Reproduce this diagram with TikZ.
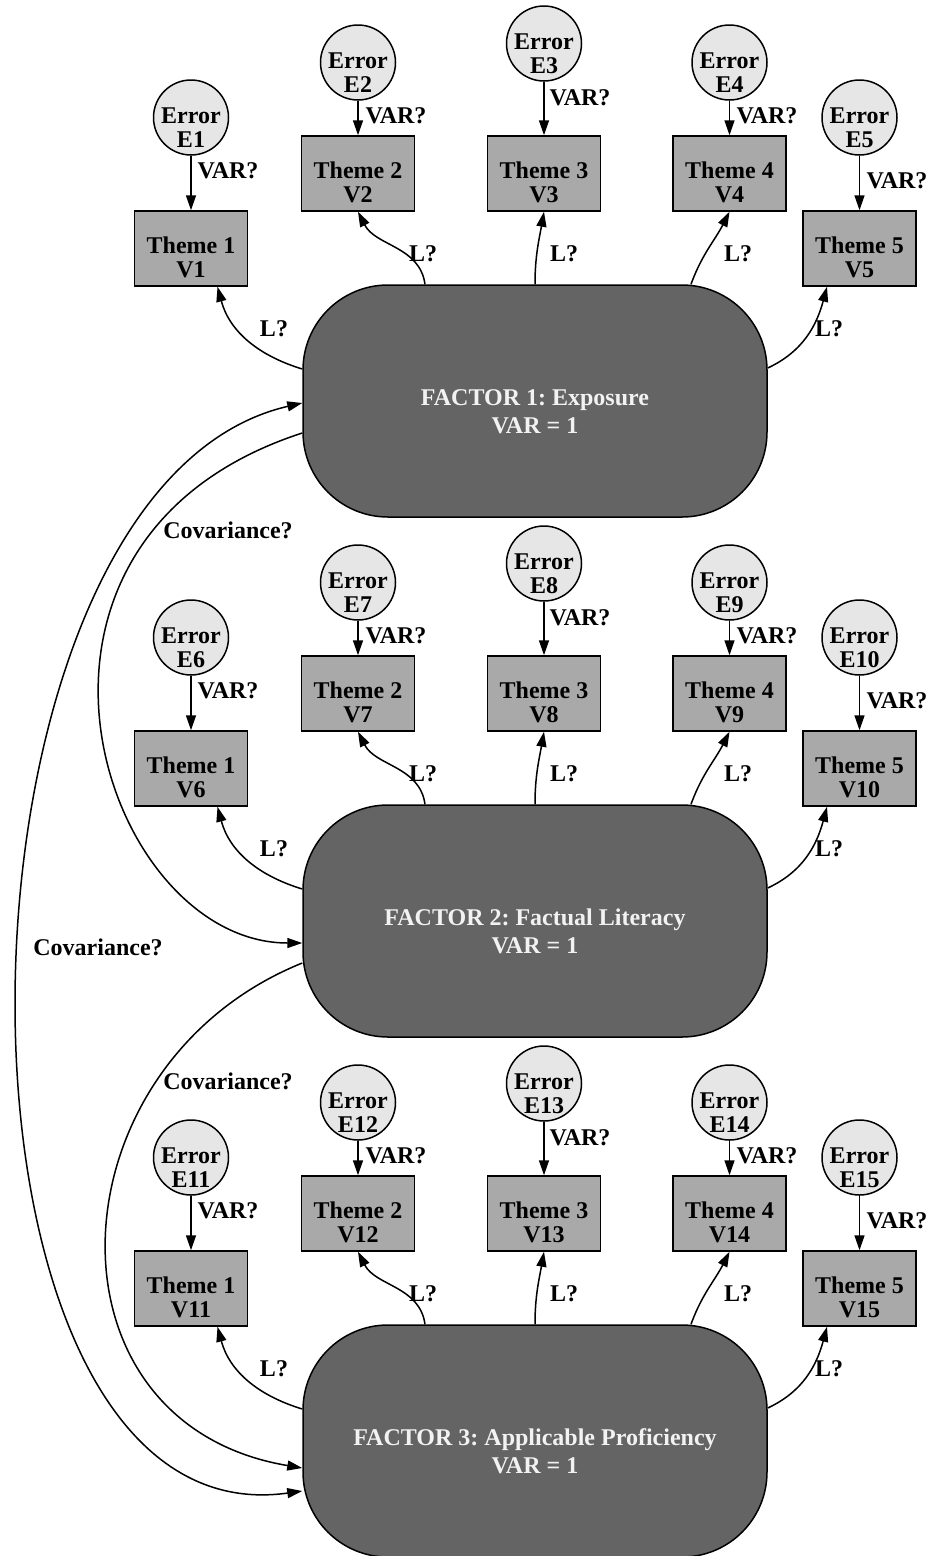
\documentclass[tikz,border=0pt]{standalone}
\usepackage{fontspec}
\setmainfont{Liberation Serif}
\usetikzlibrary{arrows.meta,calc}
\frenchspacing
\definecolor{facfill}{HTML}{646464}
\definecolor{boxfill}{HTML}{A9A9A9}
\definecolor{errfill}{HTML}{E6E6E6}
\definecolor{factext}{HTML}{F2F2F2}
\newcommand\twoline[3]{\raisebox{#1}[0pt][0pt]{\begin{tabular}{@{}c@{}}#2\\#3\end{tabular}}}
\tikzset{
  errnode/.style={circle, draw, fill=errfill, minimum size=75pt, inner sep=0pt, line width=1.5pt},
  thmbox/.style={rectangle, draw, fill=boxfill, minimum width=113pt, minimum height=75pt, inner sep=0pt, line width=1.5pt},
  factor/.style={rectangle, rounded corners=85pt, draw, fill=facfill, minimum width=464pt, minimum height=232pt, inner sep=0pt, line width=1.5pt, text=factext, font=\fontsize{24}{28}\selectfont\bfseries},
  lbl/.style={inner sep=0pt},
  arr/.style={-{Triangle[length=15pt,width=10pt]}, line width=1.5pt},
  arrboth/.style={{Triangle[length=15pt,width=10pt]}-{Triangle[length=15pt,width=10pt]}, line width=1.5pt}
}
\begin{document}
\begin{tikzpicture}[x=1pt,y=1pt,font=\fontsize{24}{24}\selectfont\bfseries]
\useasboundingbox (0,0) rectangle (931,-1556);
\foreach \g/\ftxt in {0/Exposure,1/Factual Literacy,2/Applicable Proficiency}{
  \pgfmathsetmacro\dy{-520*\g}
  \pgfmathtruncatemacro\fn{\g+1}
  \node[factor] (F\fn) at (535,{-401+\dy}) {\twoline{-19pt}{FACTOR \fn: \ftxt}{VAR = 1}};
  \foreach \k/\ex/\ey/\vy/\lx/\ly/\mx/\my in {
      1/191/117.5/248.5/228/171/274/329,
      2/358/62.5/173.5/396/116/423/254,
      3/544/43.5/173.5/580/98/564/254,
      4/729.5/62.5/173.5/767/116/738/254,
      5/859.5/117.5/248.5/897/181/829/329}{
    \pgfmathtruncatemacro\n{5*\g+\k}
    \node[errnode] (E\n) at (\ex,{-\ey+\dy}) {\twoline{-19pt}{Error}{E\n}};
    \node[thmbox] (V\n) at (\ex,{-\vy+\dy}) {\twoline{-18.5pt}{Theme \k}{V\n}};
    \draw[arr] (E\n) -- (V\n);
    \node[lbl] (var\n) at (\lx,{-\ly+\dy}) {VAR?};
    \node[lbl] (lo\n) at (\mx,{-\my+\dy}) {L?};
  }
  \pgfmathtruncatemacro\va{5*\g+1}
  \pgfmathtruncatemacro\vb{5*\g+2}
  \pgfmathtruncatemacro\vc{5*\g+3}
  \pgfmathtruncatemacro\vd{5*\g+4}
  \pgfmathtruncatemacro\ve{5*\g+5}
  \draw[arr] ([yshift=32pt]F\fn.west) to[out=163,in=-75] ([xshift=26.5pt]V\va.south);
  \draw[arr] ([xshift=-110pt]F\fn.north) to[out=98,in=-63] (V\vb.south);
  \draw[arr] (F\fn.north) to[out=90,in=-100] (V\vc.south);
  \draw[arr] ([xshift=156pt]F\fn.north) to[out=70,in=-117] (V\vd.south);
  \draw[arr] ([yshift=33pt]F\fn.east) to[out=25,in=-105] ([xshift=-32.5pt]V\ve.south);
}
% covariances
\draw[arr] ([yshift=-32pt]F1.west) .. controls +(198:350) and +(180:200) .. ([yshift=-22pt]F2.west);
\draw[arrboth] ([yshift=-2pt]F1.west) .. controls +(193:385) and +(188:385) .. ([yshift=-50pt]F3.west);
\draw[arr] ([yshift=-42pt]F2.west) .. controls +(202:272) and +(170.5:272) .. ([yshift=-27pt]F3.west);
\node[lbl] (cov12) at (228,-530) {Covariance?};
\node[lbl] (cov13) at (98,-947) {Covariance?};
\node[lbl] (cov23) at (228,-1081) {Covariance?};
\end{tikzpicture}
\end{document}
